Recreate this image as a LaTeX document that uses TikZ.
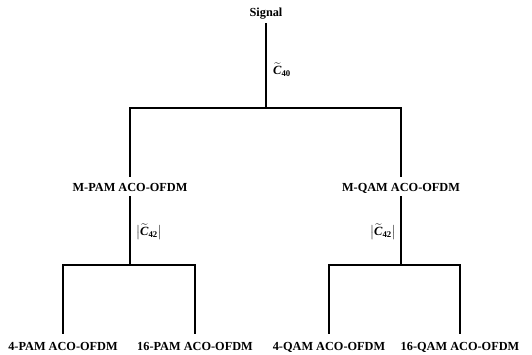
\documentclass[tikz,border=0pt]{standalone}
\usepackage{amsmath}
\usepackage{fontspec}
\setmainfont{Liberation Serif}
\newcommand{\bCsym}[1]{$\widetilde{\text{\bfseries\itshape C}}_{\text{\bfseries #1}}$}
\begin{document}
\begin{tikzpicture}[x=1pt,y=1pt,
  lbl/.style={font=\fontsize{12.3}{14}\selectfont\bfseries, inner sep=0pt, text depth=0pt, anchor=base},
  edge/.style={line width=1.9pt, line cap=rect},
  ann/.style={font=\fontsize{12.5}{14}\selectfont, inner sep=0pt}]
\useasboundingbox (0,0) rectangle (532,354);
% nodes
\node[lbl] (sig) at (266,337) {Signal};
\node[lbl] (mpam) at (130,163) {M-PAM ACO-OFDM};
\node[lbl] (mqam) at (401,163) {M-QAM ACO-OFDM};
\node[lbl] (p4) at (63,4) {4-PAM ACO-OFDM};
\node[lbl] (p16) at (195,4) {16-PAM ACO-OFDM};
\node[lbl] (q4) at (329,4) {4-QAM ACO-OFDM};
\node[lbl] (q16) at (460,4) {16-QAM ACO-OFDM};
% junction coordinates
\coordinate (j0) at (266,246);
\coordinate (j1) at (130,89);
\coordinate (j2) at (401,89);
% top level
\draw[edge] ([yshift=-7pt]sig.base) -- (j0);
\draw[edge] (mpam |- j0) -- (mqam |- j0);
\draw[edge] (mpam |- j0) -- ([yshift=15pt]mpam.base);
\draw[edge] (mqam |- j0) -- ([yshift=15pt]mqam.base);
% second level
\draw[edge] ([yshift=-6pt]mpam.base) -- (j1);
\draw[edge] (p4 |- j1) -- (p16 |- j1);
\draw[edge] (p4 |- j1) -- ([yshift=17pt]p4.base);
\draw[edge] (p16 |- j1) -- ([yshift=17pt]p16.base);
\draw[edge] ([yshift=-6pt]mqam.base) -- (j2);
\draw[edge] (q4 |- j2) -- (q16 |- j2);
\draw[edge] (q4 |- j2) -- ([yshift=17pt]q4.base);
\draw[edge] (q16 |- j2) -- ([yshift=17pt]q16.base);
% annotations
\node[ann, anchor=west] (c40) at (273,284) {\bCsym{40}};
\node[ann, anchor=west] (c42a) at (136,122) {$\bigl|$\bCsym{42}$\bigr|$};
\node[ann, anchor=east] (c42b) at (396,122) {$\bigl|$\bCsym{42}$\bigr|$};
\end{tikzpicture}
\end{document}
